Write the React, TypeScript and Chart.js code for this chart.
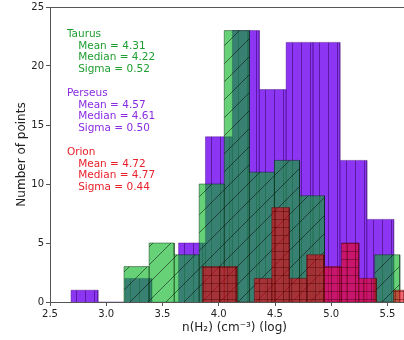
import { useEffect, useRef } from "react";
import { Chart, registerables } from "chart.js";

Chart.register(...registerables);

// ---- Data (log n(H2) bin edges and counts per cloud) ----
const perseusEdges = [2.687, 2.926, 3.165, 3.404, 3.643, 3.882, 4.121, 4.36, 4.599, 4.838, 5.077, 5.316, 5.555];
const perseusCounts = [1, 0, 2, 0, 5, 14, 23, 18, 22, 22, 12, 7];

const taurusEdges = [3.158, 3.381, 3.604, 3.826, 4.049, 4.272, 4.495, 4.718, 4.94, 5.163, 5.386, 5.609];
const taurusCounts = [3, 5, 4, 10, 23, 11, 12, 9, 0, 0, 4];

const orionEdges = [3.853, 4.008, 4.162, 4.317, 4.472, 4.627, 4.781, 4.936, 5.091, 5.245, 5.4, 5.555, 5.709];
const orionCounts = [3, 3, 0, 2, 8, 2, 4, 3, 5, 2, 0, 1];

const cloudNames = ["Taurus", "Perseus", "Orion"];
const cloudMeans = [4.31, 4.57, 4.72];
const cloudMedians = [4.22, 4.61, 4.77];
const cloudSigmas = [0.52, 0.5, 0.44];
const labelRowsY = [23, 18, 13];

const xTicks = [2.5, 3.0, 3.5, 4.0, 4.5, 5.0, 5.5];
const yTicks = [0, 5, 10, 15, 20, 25];

const FONT = '"DejaVu Sans", sans-serif';
const textColors = ["#1e9e30", "#8a2be2", "#e8212b"];

function outline(edges: number[], counts: number[]) {
  const pts: { x: number; y: number }[] = [];
  counts.forEach((v, i) => {
    if (v > 0) {
      pts.push({ x: edges[i], y: 0 }, { x: edges[i], y: v }, { x: edges[i + 1], y: v }, { x: edges[i + 1], y: 0 });
    }
  });
  return pts;
}

function makePattern(kind: string, fill: string, line: string) {
  const size = kind === "diag" ? 18 : kind === "vert" ? 9 : 8;
  const c = document.createElement("canvas");
  c.width = size;
  c.height = size;
  const g = c.getContext("2d")!;
  g.fillStyle = fill;
  g.fillRect(0, 0, size, size);
  g.strokeStyle = line;
  g.lineWidth = 1;
  g.beginPath();
  if (kind === "vert") {
    g.moveTo(4.5, 0);
    g.lineTo(4.5, size);
  } else if (kind === "grid") {
    g.moveTo(3.5, 0);
    g.lineTo(3.5, size);
    g.moveTo(0, 3.5);
    g.lineTo(size, 3.5);
  } else {
    for (const o of [-size, 0, size]) {
      g.moveTo(o, size);
      g.lineTo(o + size, 0);
    }
  }
  g.stroke();
  return g.createPattern(c, "repeat");
}

const statsPlugin = {
  id: "stats",
  afterDatasetsDraw(chart: any) {
    const { ctx, scales } = chart;
    const x = scales.x;
    const y = scales.y;
    ctx.save();
    ctx.font = `10.5px ${FONT}`;
    ctx.textBaseline = "middle";
    ctx.textAlign = "left";
    cloudNames.forEach((name, i) => {
      ctx.fillStyle = textColors[i];
      const y0 = labelRowsY[i];
      ctx.fillText(name, x.getPixelForValue(2.65), y.getPixelForValue(y0) + 3.5);
      const lines = [
        `Mean = ${cloudMeans[i].toFixed(2)}`,
        `Median = ${cloudMedians[i].toFixed(2)}`,
        `Sigma = ${cloudSigmas[i].toFixed(2)}`,
      ];
      lines.forEach((t, j) => {
        ctx.fillText(t, x.getPixelForValue(2.75), y.getPixelForValue(y0 - 1 - j) + 3.5);
      });
    });
    ctx.restore();
  },
};

export default function App() {
  const ref = useRef<HTMLCanvasElement | null>(null);
  useEffect(() => {
    if (!ref.current) return;
    Chart.defaults.font.family = FONT;
    const perseusPat = makePattern("vert", "#8c35f3", "rgba(40,0,90,0.5)");
    const taurusPat = makePattern("diag", "rgba(0,178,28,0.6)", "rgba(0,0,0,0.5)");
    const orionPat = makePattern("grid", "rgba(240,0,20,0.6)", "rgba(60,0,0,0.4)");
    const axisColor = "#555";
    const chart = new Chart(ref.current, {
      type: "line",
      data: {
        datasets: [
          {
            label: "Perseus",
            data: outline(perseusEdges, perseusCounts),
            borderColor: "rgba(60,0,120,0.4)",
            borderWidth: 1,
            backgroundColor: perseusPat as any,
            fill: "origin",
            pointRadius: 0,
            tension: 0,
            order: 3,
          },
          {
            label: "Taurus",
            data: outline(taurusEdges, taurusCounts),
            borderColor: "rgba(0,40,10,0.45)",
            borderWidth: 1,
            backgroundColor: taurusPat as any,
            fill: "origin",
            pointRadius: 0,
            tension: 0,
            order: 2,
          },
          {
            label: "Orion",
            data: outline(orionEdges, orionCounts),
            borderColor: "rgba(80,0,0,0.45)",
            borderWidth: 1,
            backgroundColor: orionPat as any,
            fill: "origin",
            pointRadius: 0,
            tension: 0,
            order: 1,
          },
        ],
      },
      options: {
        animation: false,
        responsive: true,
        maintainAspectRatio: false,
        devicePixelRatio: 1,
        events: [],
        layout: { padding: { top: 7, left: 0, right: 0, bottom: 0 } },
        plugins: { legend: { display: false }, tooltip: { enabled: false } },
        scales: {
          x: {
            type: "linear",
            position: "bottom",
            min: 2.5,
            max: 5.78,
            afterBuildTicks: (s: any) => {
              s.ticks = xTicks.map((v) => ({ value: v }));
            },
            ticks: {
              color: "#222",
              font: { size: 10, family: FONT },
              padding: 2,
              maxRotation: 0,
              autoSkip: false,
              callback: (v: any) => Number(v).toFixed(1),
            },
            grid: { display: true, drawOnChartArea: false, drawTicks: true, tickLength: 4, tickColor: axisColor },
            border: { display: true, color: axisColor, width: 1 },
            title: {
              display: true,
              text: "n(H₂) (cm⁻³) (log)",
              color: "#222",
              font: { size: 12, family: FONT },
              padding: { top: 0, bottom: 5 },
            },
            afterFit: (s: any) => {
              s.height = 38;
              s.paddingLeft = 0;
              s.paddingRight = 0;
            },
          },
          xTop: {
            type: "linear",
            position: "top",
            min: 2.5,
            max: 5.78,
            ticks: { display: false },
            grid: { display: false },
            border: { display: true, color: axisColor, width: 1 },
            afterFit: (s: any) => {
              s.height = 0;
              s.paddingLeft = 0;
              s.paddingRight = 0;
            },
          },
          y: {
            min: 0,
            max: 25,
            afterBuildTicks: (s: any) => {
              s.ticks = yTicks.map((v) => ({ value: v }));
            },
            ticks: {
              color: "#222",
              font: { size: 10, family: FONT },
              padding: 2,
            },
            grid: { display: true, drawOnChartArea: false, drawTicks: true, tickLength: 4, tickColor: axisColor },
            border: { display: true, color: axisColor, width: 1 },
            title: {
              display: true,
              text: "Number of points",
              color: "#222",
              font: { size: 12, family: FONT },
              padding: { top: 15, bottom: 0 },
            },
            afterFit: (s: any) => {
              s.width = 50;
              s.paddingTop = 0;
              s.paddingBottom = 0;
            },
          },
        },
      },
      plugins: [statsPlugin],
    });
    return () => chart.destroy();
  }, []);

  return (
    <div
      style={{
        position: "fixed",
        left: 0,
        top: 0,
        width: 404,
        height: 340,
        overflow: "hidden",
        background: "#fff",
      }}
    >
      <div style={{ position: "relative", width: 419, height: 340 }}>
        <canvas ref={ref} />
      </div>
    </div>
  );
}
